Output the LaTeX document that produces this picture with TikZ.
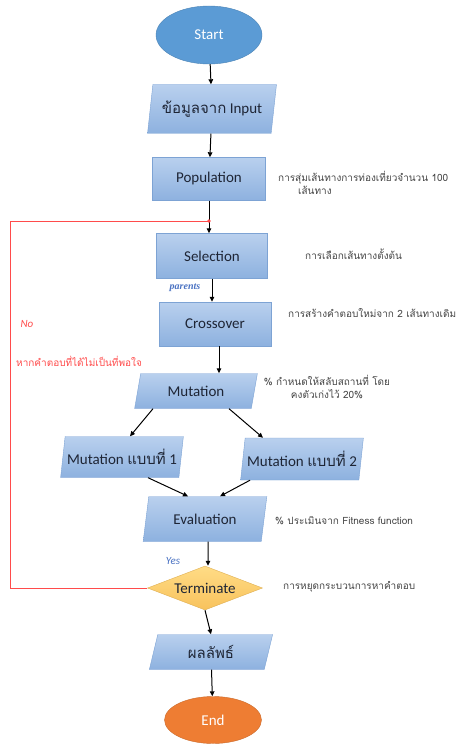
\documentclass[tikz,border=0pt]{standalone}
\usepackage{fontspec}
\setmainfont{Carlito}
\newfontfamily\thai[Script=Thai]{Loma}
\newfontfamily\serifit{Liberation Serif}
\usetikzlibrary{shapes.geometric,arrows.meta}

\definecolor{boxtop}{HTML}{B9D0EE}
\definecolor{boxbot}{HTML}{8DB1DF}
\definecolor{boxline}{HTML}{7DA3D4}
\definecolor{inktext}{HTML}{1E2535}
\definecolor{notegray}{HTML}{444444}
\definecolor{loopred}{HTML}{FF4B4B}
\definecolor{labelblue}{HTML}{4A72C2}
\definecolor{startblue}{HTML}{5B9BD5}
\definecolor{endorange}{HTML}{EE7D33}
\definecolor{termtop}{HTML}{FFDC86}
\definecolor{termbot}{HTML}{F8C25C}

\begin{document}
\begin{tikzpicture}[
  x=1pt,y=-1pt,
  box/.style={draw=boxline, top color=boxtop, bottom color=boxbot,
              text=inktext, font=\fontsize{15}{17}\selectfont, inner sep=2pt},
  proc/.style={box, rectangle, minimum width=113pt, minimum height=44pt},
  io/.style={box, trapezium, trapezium left angle=77, trapezium right angle=103,
             trapezium stretches=true, minimum width=123pt, minimum height=36pt},
  startend/.style={ellipse, draw=#1!85!black, fill=#1, text=white,
                   font=\fontsize{15}{17}\selectfont},
  decision/.style={diamond, aspect=2.6, inner sep=0pt, draw=termbot!90!black,
                   top color=termtop, bottom color=termbot, text=inktext,
                   minimum width=115pt, minimum height=44pt,
                   font=\fontsize{15}{17}\selectfont},
  flow/.style={-{Triangle[length=5pt,width=4.5pt]}, line width=1pt, draw=black},
  loopback/.style={draw=loopred, line width=0.8pt},
  note/.style={text=notegray, font=\thai\fontsize{10}{13}\selectfont, inner sep=0pt},
  tag/.style={font=\fontsize{11}{13}\selectfont\itshape, inner sep=0pt}
]
  \useasboundingbox (0,0) rectangle (466,746);

  % main column
  \node[startend=startblue, minimum width=106pt, minimum height=58pt] (start) at (209,35) {Start};
  \node[io, minimum width=129pt, minimum height=49pt] (input) at (212,109) {{\thai ข้อมูลจาก} Input};
  \node[proc, minimum width=113pt, minimum height=43pt] (pop) at (209,179) {Population};
  \node[proc, minimum width=111pt, minimum height=45pt] (sel) at (212,256) {Selection};
  \node[proc, minimum width=112pt, minimum height=44pt] (cross) at (215,324) {Crossover};
  \node[io, minimum width=123pt, minimum height=35pt] (mut) at (196,391) {Mutation};
  \node[io, minimum width=122pt, minimum height=41pt] (mutA) at (122,457) {Mutation {\thai แบบที่} 1};
  \node[io, minimum width=122pt, minimum height=42pt] (mutB) at (302,459) {Mutation {\thai แบบที่} 2};
  \node[io, minimum width=124pt, minimum height=45pt] (eval) at (205,519) {Evaluation};
  \node[decision] (term) at (205,588) {Terminate};
  \node[io, minimum width=124pt, minimum height=35pt] (result) at (211,652) {\thai ผลลัพธ์};
  \node[startend=endorange, minimum width=97pt, minimum height=47pt] (end) at (213,720) {End};

  % notes on the right
  \node[note, anchor=west, align=left] (popnote) at (278,183)
    {การสุ่มเส้นทางการท่องเที่ยวจำนวน 100\\\hspace*{20pt}เส้นทาง};
  \node[note, anchor=west] (selnote) at (305,254) {การเลือกเส้นทางตั้งต้น};
  \node[note, anchor=west] (crossnote) at (288,313) {การสร้างคำตอบใหม่จาก 2 เส้นทางเดิม};
  \node[note, align=center] (mutnote) at (327,387) {\% กำหนดให้สลับสถานที่ โดย\\คงตัวเก่งไว้ 20\%};
  \node[note, anchor=west] (evalnote) at (275,521) {\% ประเมินจาก Fitness function};
  \node[note, anchor=west] (termnote) at (283,587) {การหยุดกระบวนการหาคำตอบ};

  % small labels
  \node[tag, text=labelblue, font=\serifit\fontsize{10}{12}\selectfont\itshape\bfseries] (parents) at (185,288) {parents};
  \node[tag, text=labelblue] (yes) at (173,561) {Yes};
  \node[tag, text=loopred] (no) at (27,324) {No};
  \node[note, text=loopred, anchor=west] (nonote) at (16,361) {หากคำตอบที่ได้ไม่เป็นที่พอใจ};

  % connectors
  \draw[flow] (start) -- (input);
  \draw[flow] (input) -- (pop);
  \draw[flow] (pop.south) -- (pop.south |- sel.north);
  \draw[flow] (sel.south) -- (sel.south |- cross.north);
  \draw[flow] ([xshift=4pt]cross.south) -- ([xshift=4pt]cross.south |- mut.north);
  \draw[flow] ([xshift=-43pt]mut.south) -- ([xshift=8pt]mutA.north);
  \draw[flow] ([xshift=33pt]mut.south) -- ([xshift=-39pt]mutB.north);
  \draw[flow] ([xshift=26pt]mutA.south) -- ([xshift=-17pt]eval.north);
  \draw[flow] ([xshift=-52pt]mutB.south) -- ([xshift=15pt]eval.north);
  \draw[flow] ([xshift=3pt]eval.south) -- ([xshift=3pt]term.north);
  \draw[flow] (term.south) -- (result.north);
  \draw[flow] (result) -- (end);

  % loop back when not satisfied
  \coordinate (join) at (209,221);
  \coordinate (corner) at (10,221);
  \draw[loopback] (term.west) -| (corner) -- (join);
  \fill[loopred] (join) circle (1.8pt);
\end{tikzpicture}
\end{document}
